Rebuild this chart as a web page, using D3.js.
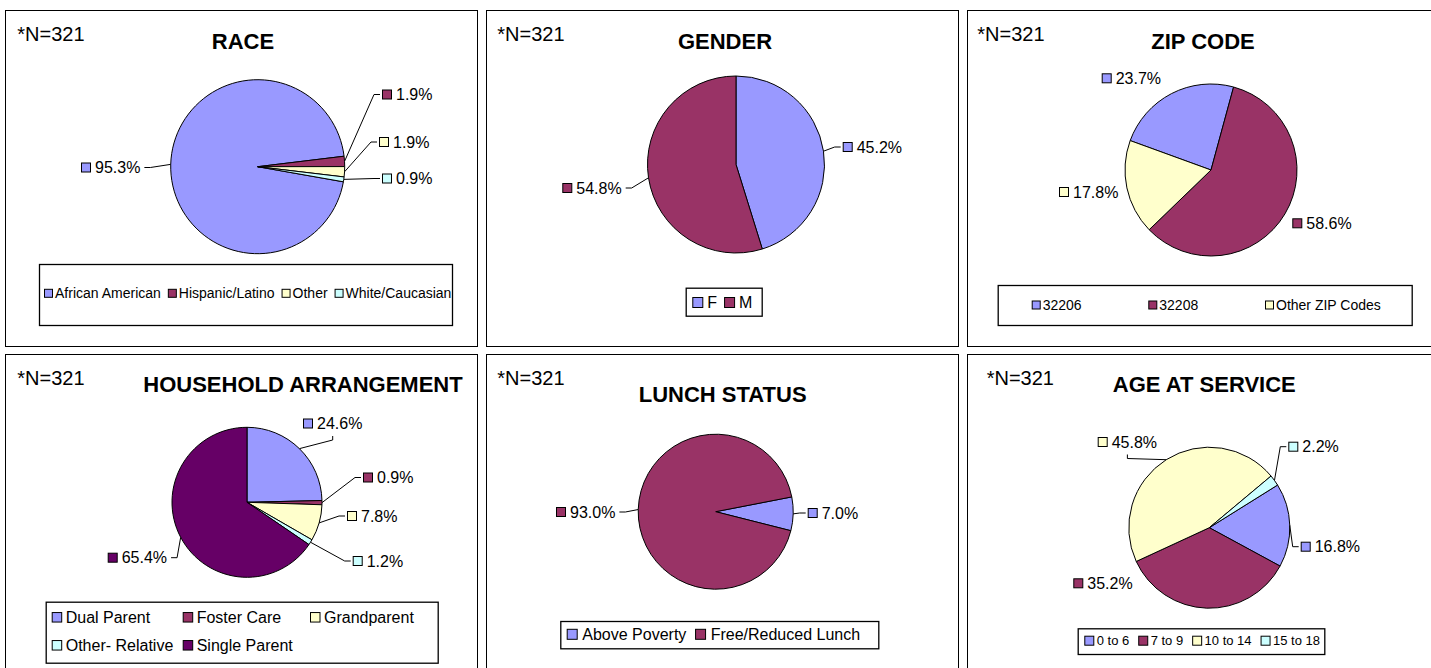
<!DOCTYPE html>
<html><head><meta charset="utf-8">
<script src="https://cdn.jsdelivr.net/npm/d3@7"></script>
<style>body{margin:0;background:#fff} svg{display:block} text{font-family:"Liberation Sans",Arial,sans-serif;fill:#000}</style>
</head><body><svg id="c" width="1431" height="668"></svg>
<script>
// ---------------- data ----------------
const sampleNote = "*N=321";

const raceCategories = ["African American", "Hispanic/Latino", "Other", "White/Caucasian"];
const raceValues = [95.3, 1.9, 1.9, 0.9];

const genderCategories = ["F", "M"];
const genderValues = [45.2, 54.8];

const zipCategories = ["32206", "32208", "Other ZIP Codes"];
const zipValues = [23.7, 58.6, 17.8];

const householdCategories = ["Dual Parent", "Foster Care", "Grandparent", "Other- Relative", "Single Parent"];
const householdValues = [24.6, 0.9, 7.8, 1.2, 65.4];

const lunchCategories = ["Above Poverty", "Free/Reduced Lunch"];
const lunchValues = [7.0, 93.0];

const ageCategories = ["0 to 6", "7 to 9", "10 to 14", "15 to 18"];
const ageValues = [16.8, 35.2, 45.8, 2.2];

const C = {blue: "#9999FF", maroon: "#993366", yellow: "#FFFFCC", cyan: "#CCFFFF", purple: "#660066"};

// ---------------- layout ----------------
const PW = 472, PH = 336;
const charts = [
  {title: "RACE", cats: raceCategories, vals: raceValues, colors: [C.blue, C.maroon, C.yellow, C.cyan], start: 100,
   px: 5, py: 10, cx: 252.7, cy: 156.7, r: 87, tx: 238, ty: 39, nx: 12.3, ny: 30.7,
   labels: [{x: 76, y: 157.5, lead: "side"}, {x: 377, y: 84.5, lead: "side"}, {x: 374, y: 132, lead: "side"}, {x: 377, y: 168.5, lead: "side"}],
   legend: {x: 34, y: 254, w: 413, h: 61, fs: 14, sw: 8, gap: 3, ig: 7, rows: [{y: 283.3, x: 39, items: [0, 1, 2, 3]}]}},
  {title: "GENDER", cats: genderCategories, vals: genderValues, colors: [C.blue, C.maroon], start: 0,
   px: 486, py: 10, cx: 250, cy: 154.5, r: 88.5, tx: 239, ty: 39, nx: 11.3, ny: 30.7,
   labels: [{x: 356.7, y: 137, lead: "side"}, {x: 76.3, y: 178, lead: "side"}],
   legend: {x: 199.7, y: 277.7, w: 76, h: 28, fs: 16, sw: 10, gap: 5, ig: 7, rows: [{y: 292.5, x: 206.3, items: [0, 1]}]}},
  {title: "ZIP CODE", cats: zipCategories, vals: zipValues, colors: [C.blue, C.maroon, C.yellow], start: -70,
   px: 967, py: 10, cx: 244, cy: 160, r: 86, tx: 236, ty: 39, nx: 10.3, ny: 30.7,
   labels: [{x: 134.7, y: 68.3, lead: null}, {x: 325.3, y: 213.3, lead: null}, {x: 92, y: 182, lead: null}],
   legend: {x: 30.7, y: 275, w: 414, h: 40, fs: 14, sw: 8, gap: 3, rows: [{y: 295, cols: [64.7, 181.3, 298], items: [0, 1, 2]}]}},
  {title: "HOUSEHOLD ARRANGEMENT", cats: householdCategories, vals: householdValues, colors: [C.blue, C.maroon, C.yellow, C.cyan, C.purple], start: 0,
   px: 5, py: 354, cx: 242, cy: 148.3, r: 75, tx: 298, ty: 38, nx: 12.3, ny: 31,
   labels: [{x: 298, y: 69.5, lead: "below"}, {x: 358, y: 123.5, lead: "side"}, {x: 342, y: 162, lead: "side"}, {x: 347.7, y: 207, lead: "side"}, {x: 102.7, y: 203.7, lead: "side"}],
   legend: {x: 40.7, y: 247.7, w: 392, h: 61, fs: 16, sw: 9.5, gap: 4.5, rows: [{y: 263.3, cols: [46.7, 177.7, 305], items: [0, 1, 2]}, {y: 291.3, cols: [46.7, 177.7], items: [3, 4]}]}},
  {title: "LUNCH STATUS", cats: lunchCategories, vals: lunchValues, colors: [C.blue, C.maroon], start: 79,
   px: 486, py: 354, cx: 229.7, cy: 157.7, r: 77.5, tx: 236.7, ty: 47.7, nx: 11.3, ny: 31,
   labels: [{x: 321.7, y: 159, lead: "side"}, {x: 70, y: 158, lead: "side"}],
   legend: {x: 74.3, y: 267, w: 318, h: 27.3, fs: 16, sw: 10, gap: 5.6, ig: 8.7, rows: [{y: 280.3, x: 80.7, items: [0, 1]}]}},
  {title: "AGE AT SERVICE", cats: ageCategories, vals: ageValues, colors: [C.blue, C.maroon, C.yellow, C.cyan], start: 58,
   px: 967, py: 354, cx: 242.3, cy: 173.7, r: 80.5, tx: 237.3, ty: 38.3, nx: 19.7, ny: 31,
   labels: [{x: 333.7, y: 192.7, lead: "side"}, {x: 106.3, y: 229.3, lead: null}, {x: 130.7, y: 88, lead: "below"}, {x: 321.3, y: 92.7, lead: "side"}],
   legend: {x: 110.7, y: 274.3, w: 246.6, h: 25.7, fs: 13, sw: 9, gap: 3.4, ig: 9, rows: [{y: 286.7, x: 117.3, items: [0, 1, 2, 3]}]}}
];

const svg = d3.select("#c");
const fmt = v => d3.format(".1f")(v) + "%";
const LFS = 16, LSW = 9;

charts.forEach(ch => {
  const g = svg.append("g").attr("transform", `translate(${ch.px},${ch.py})`);
  g.append("rect").attr("x", 0.5).attr("y", 0.5).attr("width", PW).attr("height", PH)
    .attr("fill", "#fff").attr("stroke", "#000").attr("stroke-width", 1);

  g.append("text").attr("x", ch.nx).attr("y", ch.ny).attr("font-size", 20).text(sampleNote);
  g.append("text").attr("x", ch.tx).attr("y", ch.ty).attr("text-anchor", "middle")
    .attr("font-size", 22).attr("font-weight", "bold").text(ch.title);

  const a0 = ch.start * Math.PI / 180;
  const pie = d3.pie().sort(null).value(d => d).startAngle(a0).endAngle(a0 + 2 * Math.PI);
  const arcs = pie(ch.vals);
  const arc = d3.arc().innerRadius(0).outerRadius(ch.r);
  const pg = g.append("g").attr("transform", `translate(${ch.cx},${ch.cy})`);
  pg.selectAll("path").data(arcs).join("path")
    .attr("d", arc).attr("fill", (d, i) => ch.colors[i])
    .attr("stroke", "#000").attr("stroke-width", 1).attr("stroke-linejoin", "round");

  // data labels
  arcs.forEach((a, i) => {
    const L = ch.labels[i];
    const lg = g.append("g");
    lg.append("rect").attr("x", L.x + 0.5).attr("y", L.y - LSW / 2).attr("width", LSW).attr("height", LSW)
      .attr("fill", ch.colors[i]).attr("stroke", "#000").attr("stroke-width", 1);
    const t = lg.append("text").attr("x", L.x + 14).attr("y", L.y + LFS * 0.358)
      .attr("font-size", LFS).text(fmt(ch.vals[i]));
    const tEnd = L.x + 14 + t.node().getComputedTextLength();
    if (!L.lead) return;
    const mid = (a.startAngle + a.endAngle) / 2;
    const px = ch.cx + ch.r * Math.sin(mid), py = ch.cy - ch.r * Math.cos(mid);
    let pts;
    if (L.lead === "below") {
      const lcx = (L.x + tEnd) / 2;
      pts = [[px, py], [lcx, L.y + 16.5], [lcx, L.y + 12.5]];
    } else if (L.x > ch.cx) {
      pts = [[px, py], [L.x - 8, L.y], [L.x - 2, L.y]];
    } else {
      pts = [[px, py], [tEnd + 10, L.y], [tEnd + 4, L.y]];
    }
    lg.append("path").attr("d", d3.line()(pts)).attr("fill", "none")
      .attr("stroke", "#000").attr("stroke-width", 1);
  });

  // legend
  const Lg = ch.legend;
  const leg = g.append("g");
  leg.append("rect").attr("x", Lg.x + 0.5).attr("y", Lg.y + 0.5).attr("width", Lg.w).attr("height", Lg.h)
    .attr("fill", "#fff").attr("stroke", "#000").attr("stroke-width", 1.3);
  Lg.rows.forEach(row => {
    let cur = row.x;
    row.items.forEach((idx, k) => {
      const sx = row.cols ? row.cols[k] : cur;
      leg.append("rect").attr("x", sx + 0.5).attr("y", row.y - Lg.sw / 2).attr("width", Lg.sw).attr("height", Lg.sw)
        .attr("fill", ch.colors[idx]).attr("stroke", "#000").attr("stroke-width", 1);
      const tt = leg.append("text").attr("x", sx + Lg.sw + Lg.gap).attr("y", row.y + Lg.fs * 0.358)
        .attr("font-size", Lg.fs).text(ch.cats[idx]);
      cur = sx + Lg.sw + Lg.gap + tt.node().getComputedTextLength() + (Lg.ig || 0);
    });
  });
});
</script>
</body></html>
